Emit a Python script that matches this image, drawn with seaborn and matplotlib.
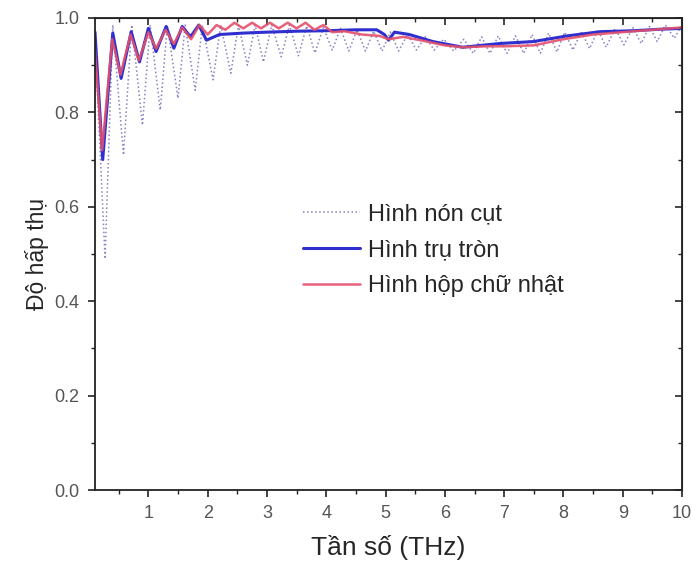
import matplotlib
matplotlib.use("Agg")
import matplotlib.pyplot as plt
from matplotlib.ticker import MultipleLocator, FormatStrFormatter
import seaborn as sns

## Data

# Hình nón cụt (dotted)
non_cut_x = [0.10, 0.27, 0.40, 0.58, 0.72, 0.90, 1.03, 1.20, 1.32, 1.50, 1.62, 1.79,
             1.91, 2.09, 2.22, 2.39, 2.52, 2.67, 2.80, 2.94, 3.08, 3.24, 3.38, 3.53,
             3.67, 3.81, 3.95, 4.10, 4.24, 4.38, 4.52, 4.66, 4.80, 4.94, 5.08, 5.22,
             5.37, 5.52, 5.67, 5.82, 5.98, 6.15, 6.32, 6.48, 6.62, 6.76, 6.90, 7.05,
             7.19, 7.33, 7.47, 7.61, 7.75, 7.89, 8.02, 8.16, 8.30, 8.44, 8.58, 8.72,
             8.87, 9.02, 9.17, 9.31, 9.45, 9.58, 9.72, 9.87, 10.0]
non_cut_y = [0.95, 0.49, 0.985, 0.71, 0.985, 0.773, 0.985, 0.805, 0.985, 0.83, 0.985, 0.847,
             0.985, 0.869, 0.985, 0.883, 0.985, 0.90, 0.985, 0.907, 0.985, 0.918, 0.985, 0.92,
             0.983, 0.926, 0.98, 0.932, 0.978, 0.93, 0.975, 0.93, 0.972, 0.93, 0.97, 0.93,
             0.965, 0.932, 0.96, 0.932, 0.955, 0.93, 0.955, 0.925, 0.96, 0.925, 0.962, 0.925,
             0.962, 0.925, 0.965, 0.925, 0.968, 0.928, 0.97, 0.932, 0.972, 0.935, 0.975, 0.938,
             0.978, 0.943, 0.98, 0.946, 0.982, 0.95, 0.985, 0.957, 0.985]

# Hình trụ tròn (blue)
tru_tron_x = [0.10, 0.23, 0.40, 0.54, 0.71, 0.85, 1.00, 1.13, 1.30, 1.43, 1.57, 1.71,
              1.85, 1.98, 2.20, 2.60, 3.00, 3.50, 4.00, 4.50, 4.85, 4.98, 5.05, 5.15,
              5.40, 5.80, 6.30, 6.93, 7.49, 8.06, 8.62, 9.18, 9.60, 10.0]
tru_tron_y = [0.97, 0.70, 0.968, 0.872, 0.971, 0.907, 0.978, 0.929, 0.982, 0.936, 0.982, 0.96,
              0.985, 0.953, 0.965, 0.968, 0.97, 0.972, 0.973, 0.975, 0.975, 0.965, 0.953, 0.97,
              0.965, 0.95, 0.938, 0.946, 0.95, 0.962, 0.971, 0.973, 0.976, 0.978]

# Hình hộp chữ nhật (red)
hop_cn_x = [0.10, 0.22, 0.39, 0.53, 0.70, 0.84, 1.00, 1.13, 1.29, 1.43, 1.57, 1.72,
            1.86, 2.00, 2.15, 2.30, 2.45, 2.60, 2.75, 2.90, 3.05, 3.20, 3.35, 3.50,
            3.65, 3.80, 3.95, 4.10, 4.30, 4.60, 4.90, 5.05, 5.30, 5.70, 6.00, 6.30,
            6.70, 7.00, 7.50, 8.00, 8.50, 9.00, 9.50, 10.0]
hop_cn_y = [0.93, 0.72, 0.955, 0.88, 0.965, 0.91, 0.97, 0.935, 0.975, 0.945, 0.98, 0.955,
            0.985, 0.965, 0.985, 0.975, 0.99, 0.978, 0.99, 0.978, 0.99, 0.978, 0.99, 0.978,
            0.99, 0.975, 0.985, 0.97, 0.972, 0.965, 0.962, 0.955, 0.96, 0.95, 0.942, 0.938,
            0.94, 0.94, 0.942, 0.955, 0.965, 0.97, 0.975, 0.98]

labels = ["Hình nón cụt", "Hình trụ tròn", "Hình hộp chữ nhật"]

sns.set_style("ticks")
plt.rcParams['font.family'] = ['Liberation Sans', 'DejaVu Sans']

fig = plt.figure(figsize=(6.96, 5.62), dpi=100)
ax = fig.add_axes([0.1365, 0.128, 0.8435, 0.84])

sns.lineplot(x=non_cut_x, y=non_cut_y, ax=ax, sort=False, estimator=None,
             color="#8a80c4", linestyle=":", linewidth=1.1, label=labels[0])
sns.lineplot(x=tru_tron_x, y=tru_tron_y, ax=ax, sort=False, estimator=None,
             color="#2f2fd0", linewidth=2.2, label=labels[1])
sns.lineplot(x=hop_cn_x, y=hop_cn_y, ax=ax, sort=False, estimator=None,
             color="#e4506a", linewidth=1.8, alpha=0.9, label=labels[2])

ax.set_xlim(0.1, 10)
ax.set_ylim(0, 1.0)
ax.set_xticks(range(1, 11))
ax.xaxis.set_minor_locator(MultipleLocator(0.5))
ax.yaxis.set_major_locator(MultipleLocator(0.2))
ax.yaxis.set_minor_locator(MultipleLocator(0.1))
ax.yaxis.set_major_formatter(FormatStrFormatter('%.1f'))

for s in ax.spines.values():
    s.set_visible(True)
    s.set_linewidth(1.3)
    s.set_color("#222222")

ax.tick_params(which='both', direction='out', top=False, right=False,
               labelsize=13, labelcolor="#555555", color="#222222")
ax.tick_params(which='major', length=5, width=1.2, pad=6)
ax.tick_params(which='minor', length=3, width=1.0)

# mirrored ticks on top/right, pointing inward
sec_x = ax.secondary_xaxis('top')
sec_x.set_xticks(range(1, 11))
sec_x.xaxis.set_minor_locator(MultipleLocator(0.5))
sec_x.tick_params(which='both', direction='in', labeltop=False)
sec_x.tick_params(which='major', length=5, width=1.2)
sec_x.tick_params(which='minor', length=3, width=1.0)
sec_y = ax.secondary_yaxis('right')
sec_y.yaxis.set_major_locator(MultipleLocator(0.2))
sec_y.yaxis.set_minor_locator(MultipleLocator(0.1))
sec_y.tick_params(which='both', direction='in', labelright=False)
sec_y.tick_params(which='major', length=5, width=1.2)
sec_y.tick_params(which='minor', length=3, width=1.0)

ax.set_xlabel("Tần số (THz)", fontsize=19, labelpad=9)
ax.set_ylabel("Độ hấp thụ", fontsize=16.5, labelpad=4)

ax.legend(loc='upper left', bbox_to_anchor=(0.338, 0.628), frameon=False,
          fontsize=17, handlelength=2.4, handletextpad=0.35, labelspacing=0.59,
          borderaxespad=0)

fig.savefig("out.png", dpi=100)
